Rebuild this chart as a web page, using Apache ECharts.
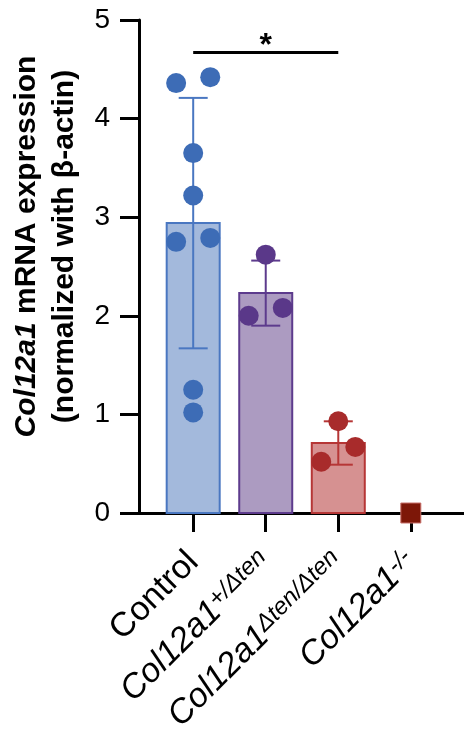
<!DOCTYPE html>
<html>
<head>
<meta charset="utf-8">
<script src="https://cdn.jsdelivr.net/npm/echarts@6/dist/echarts.min.js"></script>
<style>
html,body{margin:0;padding:0;background:#fff;}
#chart{width:464px;height:737px;}
</style>
</head>
<body>
<div id="chart"></div>
<script>
// ---- data ----
var categories = ['Control', 'Col12a1 +/Δten', 'Col12a1 Δten/Δten', 'Col12a1 -/-'];
var labelRich = [
  'Control',
  '{i|Col12a1}{s|+/Δten}',
  '{i|Col12a1}{s|Δten/Δten}',
  '{i|Col12a1}{s|-/-}'
];
var barMeans = [2.94, 2.23, 0.71];
var barSD = [1.27, 0.33, 0.22];
var controlPoints = [4.36, 4.42, 3.65, 3.22, 2.75, 2.79, 1.25, 1.02];
var controlSlots  = [-1, 1, 0, 0, -1, 1, 0, 0];
var hetPoints = [2.62, 2.00, 2.08];
var hetSlots  = [0, -1, 1];
var homPoints = [0.93, 0.52, 0.67];
var homSlots  = [0, -1, 1];
var koValue = [0];
var yTicks = [0, 1, 2, 3, 4, 5];
var sigPair = [0, 2];
var sigLevel = 4.67;
var sigText = '*';

// ---- styles ----
var FONT = 'Liberation Sans, Arial, Helvetica, sans-serif';
var markerColors = ['#3d6cb6', '#5a3889', '#a82b2b'];
var fillColors = ['#a3b9dc', '#ac9bc1', '#d69191'];
var borderColors = ['#4a77c1', '#5d3b8d', '#b63636'];
var koColor = '#7d1708';
var jitter = 0.235;
var BAR_W = 53;

function pts(vals, slots, g) {
  return vals.map(function (v, i) { return [g + slots[i] * jitter, v]; });
}

var barData = barMeans.map(function (m, i) { return [i, m]; });
var errData = barMeans.map(function (m, i) { return [i, m - barSD[i], m + barSD[i]]; });

var chart = echarts.init(document.getElementById('chart'), null, { renderer: 'canvas' });
var option = {
  animation: false,
  backgroundColor: '#fff',
  grid: { left: 139, right: 0, top: 20, bottom: 224, containLabel: false, outerBoundsMode: 'none' },
  xAxis: {
    type: 'value',
    min: -0.747,
    max: 3.733,
    splitLine: { show: false },
    axisLine: { show: true, onZero: false, lineStyle: { color: '#000', width: 3 } },
    axisTick: { show: true, customValues: [0, 1, 2, 3], length: 19, lineStyle: { color: '#000', width: 3 } },
    axisLabel: {
      show: true,
      customValues: [0, 1, 2, 3],
      rotate: 45,
      margin: 44,
      fontSize: 34,
      color: '#000',
      fontFamily: FONT,
      formatter: function (v) { return labelRich[Math.round(v)]; },
      rich: {
        i: { fontSize: 34, fontStyle: 'italic', color: '#000', fontFamily: FONT },
        s: { fontSize: 24, fontStyle: 'italic', color: '#000', fontFamily: FONT, verticalAlign: 'top' }
      }
    }
  },
  yAxis: {
    type: 'value',
    min: 0,
    max: 5,
    interval: 1,
    splitLine: { show: false },
    axisLine: { show: true, onZero: false, lineStyle: { color: '#000', width: 3 } },
    axisTick: { show: true, length: 19, lineStyle: { color: '#000', width: 3 } },
    axisLabel: { fontSize: 28, color: '#000', margin: 29, fontFamily: FONT },
    name: '{it|Col12a1}{b| mRNA expression}\n{b|(normalized with β-actin)}',
    nameLocation: 'middle',
    nameRotate: 90,
    nameGap: 47,
    nameTextStyle: {
      fontFamily: FONT,
      padding: [0, 0, 0, 40],
      lineHeight: 38,
      rich: {
        it: { fontSize: 30, fontWeight: 'bold', fontStyle: 'italic', color: '#000', fontFamily: FONT, lineHeight: 38 },
        b: { fontSize: 30, fontWeight: 'bold', color: '#000', fontFamily: FONT, lineHeight: 38 }
      }
    }
  },
  series: [
    {
      type: 'custom',
      z: 1,
      data: barData,
      renderItem: function (params, api) {
        var x = api.value(0);
        var top = api.coord([x, api.value(1)]);
        var base = api.coord([x, 0]);
        var i = params.dataIndex;
        return {
          type: 'rect',
          shape: { x: top[0] - BAR_W / 2, y: top[1], width: BAR_W, height: base[1] - top[1] },
          style: { fill: fillColors[i], stroke: borderColors[i], lineWidth: 2 }
        };
      }
    },
    {
      type: 'custom',
      z: 2,
      data: errData,
      renderItem: function (params, api) {
        var x = api.value(0);
        var lo = api.coord([x, api.value(1)]);
        var hi = api.coord([x, api.value(2)]);
        var c = borderColors[params.dataIndex];
        var hw = 14.5;
        var st = { stroke: c, lineWidth: 2 };
        return {
          type: 'group',
          children: [
            { type: 'line', shape: { x1: lo[0], y1: lo[1], x2: hi[0], y2: hi[1] }, style: st },
            { type: 'line', shape: { x1: hi[0] - hw, y1: hi[1], x2: hi[0] + hw, y2: hi[1] }, style: st },
            { type: 'line', shape: { x1: lo[0] - hw, y1: lo[1], x2: lo[0] + hw, y2: lo[1] }, style: st }
          ]
        };
      }
    },
    {
      type: 'scatter', z: 3, symbolSize: 20,
      itemStyle: { color: markerColors[0], opacity: 1 },
      data: pts(controlPoints, controlSlots, 0),
      markLine: {
        silent: true,
        symbol: ['none', 'none'],
        lineStyle: { color: '#000', width: 3, type: 'solid' },
        label: { show: true, position: 'middle', formatter: sigText, fontSize: 32, fontWeight: 'bold', color: '#000', fontFamily: FONT, distance: -10 },
        emphasis: { disabled: true },
        data: [[{ coord: [sigPair[0], sigLevel] }, { coord: [sigPair[1], sigLevel] }]]
      }
    },
    { type: 'scatter', z: 3, symbolSize: 20, itemStyle: { color: markerColors[1], opacity: 1 }, data: pts(hetPoints, hetSlots, 1) },
    { type: 'scatter', z: 3, symbolSize: 20, itemStyle: { color: markerColors[2], opacity: 1 }, data: pts(homPoints, homSlots, 2) },
    { type: 'scatter', z: 4, symbol: 'rect', symbolSize: 20, itemStyle: { color: koColor, borderColor: '#c9706a', borderWidth: 1, opacity: 1 }, data: koValue.map(function (v) { return [3, v]; }) }
  ]
};
chart.setOption(option);
</script>
</body>
</html>
